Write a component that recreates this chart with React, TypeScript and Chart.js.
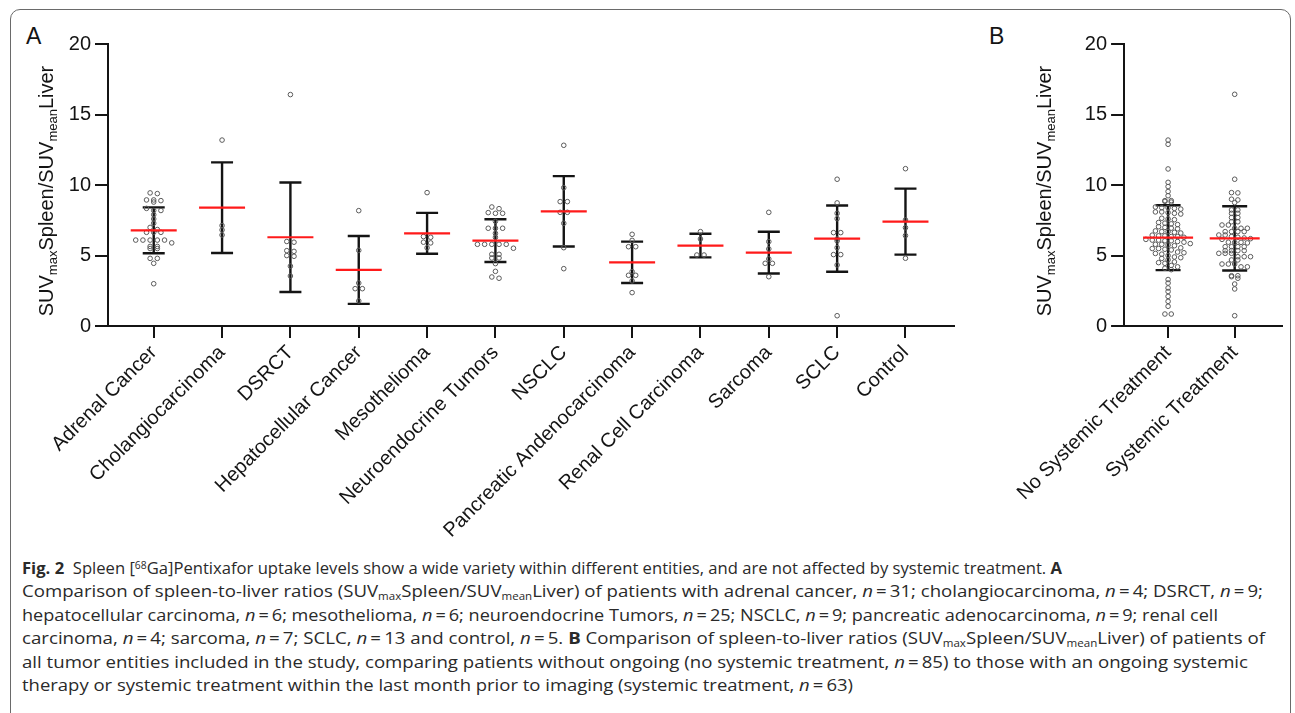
import React, { useEffect, useLayoutEffect, useRef } from 'react';
import { Chart, registerables } from 'chart.js';
Chart.register(...registerables);

const FONT = '"Liberation Sans", Arial, sans-serif';

// ---------- Panel A data ----------
const categoriesA = [
  'Adrenal Cancer', 'Cholangiocarcinoma', 'DSRCT', 'Hepatocellular Cancer', 'Mesothelioma',
  'Neuroendocrine Tumors', 'NSCLC', 'Pancreatic Andenocarcinoma', 'Renal Cell Carcinoma',
  'Sarcoma', 'SCLC', 'Control',
];
const adrenalCancer = [9.45, 9.4, 8.95, 8.95, 8.9, 8.8, 8.35, 8.2, 8.2, 7.9, 7.6, 7.3, 7.0, 6.85, 6.65, 6.65, 6.65, 6.1, 6.1, 6.1, 6.1, 6.1, 5.9, 5.65, 5.65, 5.5, 5.5, 4.8, 4.8, 4.45, 3.0];
const cholangiocarcinoma = [13.2, 7.13, 6.82, 6.46];
const dsrct = [16.43, 6.0, 5.95, 5.35, 5.3, 5.0, 4.95, 4.25, 3.55];
const hepatocellular = [8.19, 5.37, 3.05, 2.65, 2.65, 1.78];
const mesothelioma = [9.47, 6.35, 6.3, 5.95, 5.9, 5.55];
const neuroendocrine = [8.45, 8.33, 8.05, 8.0, 8.0, 7.43, 6.94, 6.94, 6.94, 6.58, 6.3, 5.8, 5.8, 5.8, 5.8, 5.8, 5.52, 5.09, 5.09, 4.83, 4.83, 4.43, 3.88, 3.48, 3.39];
const nsclc = [12.83, 9.82, 8.83, 8.83, 8.07, 8.07, 7.29, 5.56, 4.07];
const pancreatic = [6.51, 6.08, 5.63, 5.63, 3.86, 3.6, 3.6, 3.2, 2.37];
const renal = [6.7, 6.18, 5.04, 5.04];
const sarcoma = [8.07, 5.99, 5.47, 4.76, 4.45, 4.45, 3.5];
const sclc = [10.42, 8.74, 8.0, 7.62, 6.63, 6.63, 6.18, 6.04, 5.56, 5.07, 5.07, 4.33, 0.73];
const control = [11.17, 7.53, 6.98, 6.42, 4.81];
const meansA = [6.79, 8.4, 6.3, 3.98, 6.58, 6.06, 8.14, 4.52, 5.71, 5.21, 6.2, 7.41];
const sdsA = [1.63, 3.22, 3.89, 2.41, 1.45, 1.52, 2.5, 1.47, 0.84, 1.48, 2.35, 2.34];

// ---------- Panel B data ----------
const categoriesB = ['No Systemic Treatment', 'Systemic Treatment'];
const noSystemic = [
  13.2, 12.9, 11.15, 10.2, 9.9, 9.55, 9.25,
  8.9, 8.9, 8.85, 8.8,
  8.4, 8.4, 8.35, 8.3, 8.45,
  8.1, 8.05, 8.0, 8.1, 7.95,
  7.6, 7.55, 7.65,
  7.3, 7.25, 7.2, 7.35,
  7.0, 6.95, 7.05, 6.9,
  6.7, 6.65, 6.75, 6.6, 6.7,
  6.4, 6.35, 6.45, 6.3, 6.4, 6.35,
  6.1, 6.05, 6.15, 6.0, 6.1, 6.05, 5.95,
  5.8, 5.75, 5.85, 5.7, 5.8,
  5.5, 5.45, 5.55, 5.4, 5.5,
  5.2, 5.15, 5.25, 5.1, 5.0,
  4.9, 4.8, 4.85, 4.7,
  4.5, 4.45, 4.55, 4.3,
  4.2, 4.1, 4.0,
  3.3, 3.05, 2.7, 2.45, 2.1, 1.75, 1.4, 0.85, 0.85,
];
const systemic = [
  16.45, 10.42, 9.47, 9.45, 9.0, 8.95, 8.76, 8.24, 8.24, 8.0, 8.0, 7.7, 7.7, 7.4, 7.4,
  7.17, 7.17, 6.94, 6.94, 6.94, 6.7, 6.7, 6.7, 6.7, 6.46, 6.46, 6.3, 6.25, 6.2, 6.35, 6.15,
  5.94, 5.94, 5.9, 5.95, 5.63, 5.63, 5.63, 5.63, 5.35, 5.35, 5.35, 5.35, 5.16, 5.16, 5.16,
  4.92, 4.92, 4.92, 4.69, 4.69, 4.4, 4.4, 4.4, 4.2, 4.2, 3.57, 3.57, 3.5, 3.39, 2.98, 2.63, 0.73,
];
const meansB = [6.27, 6.22];
const sdsB = [2.3, 2.28];

const yTicks = [0, 5, 10, 15, 20];

// Prism-like scatter layout: values falling into the same row are centred side by side
function swarm(values: number[], center: number, stepX: number, binY: number) {
  const sorted = [...values].sort((a, b) => b - a);
  const rows = new Map<number, number[]>();
  for (const v of sorted) {
    const k = Math.round(v / binY);
    if (!rows.has(k)) rows.set(k, []);
    rows.get(k)!.push(v);
  }
  const pts: { x: number; y: number }[] = [];
  rows.forEach((arr) => {
    const n = arr.length;
    arr.forEach((v, i) => pts.push({ x: center + (i - (n - 1) / 2) * stepX, y: v }));
  });
  return pts;
}

type PlotProps = {
  left: number; top: number; width: number; height: number;
  categories: string[]; groups: number[][]; means: number[]; sds: number[];
  xMin: number; xMax: number; stepX: number;
  yAxisWidth: number; padTop: number; padRight: number; xAxisHeight: number;
  titleX: number; titleCY: number; capHalf: number; meanHalf: number;
};

function DotPlot(p: PlotProps) {
  const ref = useRef<HTMLCanvasElement | null>(null);
  useEffect(() => {
    if (!ref.current) return;
    const bars = {
      id: 'errbars',
      beforeDatasetsDraw(chart: any) {
        const { ctx, scales } = chart;
        const x = scales.x, y = scales.y;
        ctx.save();
        ctx.strokeStyle = '#141414';
        ctx.lineWidth = 2.4;
        p.means.forEach((m, i) => {
          const px = x.getPixelForValue(i);
          const t = y.getPixelForValue(m + p.sds[i]);
          const b = y.getPixelForValue(m - p.sds[i]);
          ctx.beginPath();
          ctx.moveTo(px, t); ctx.lineTo(px, b);
          ctx.moveTo(px - p.capHalf, t); ctx.lineTo(px + p.capHalf, t);
          ctx.moveTo(px - p.capHalf, b); ctx.lineTo(px + p.capHalf, b);
          ctx.stroke();
        });
        ctx.restore();
      },
      afterDatasetsDraw(chart: any) {
        const { ctx, scales } = chart;
        const x = scales.x, y = scales.y;
        ctx.save();
        ctx.strokeStyle = '#ff1a1a';
        ctx.lineWidth = 2.2;
        p.means.forEach((m, i) => {
          const px = x.getPixelForValue(i);
          const py = y.getPixelForValue(m);
          ctx.beginPath();
          ctx.moveTo(px - p.meanHalf, py); ctx.lineTo(px + p.meanHalf, py);
          ctx.stroke();
        });
        ctx.restore();
      },
      afterDraw(chart: any) {
        const { ctx } = chart;
        const parts: [string, number, number][] = [
          ['SUV', 20, 0], ['max', 13, 4], ['Spleen/SUV', 20, 0], ['mean', 13, 4], ['Liver', 20, 0],
        ];
        ctx.save();
        ctx.translate(p.titleX, p.titleCY);
        ctx.rotate(-Math.PI / 2);
        let total = 0;
        parts.forEach(([t, s]) => { ctx.font = `${s}px ${FONT}`; total += ctx.measureText(t).width; });
        let xx = -total / 2;
        ctx.fillStyle = '#141414';
        ctx.textBaseline = 'alphabetic';
        ctx.textAlign = 'left';
        parts.forEach(([t, s, off]) => {
          ctx.font = `${s}px ${FONT}`;
          ctx.fillText(t, xx, off);
          xx += ctx.measureText(t).width;
        });
        ctx.restore();
      },
    };
    const datasets = p.groups.map((g, i) => ({
      type: 'scatter' as const,
      data: swarm(g, i, p.stepX, 0.334),
      pointRadius: 2.3,
      pointBorderWidth: 1,
      pointBorderColor: '#5a5a5a',
      pointBackgroundColor: 'rgba(255,255,255,0)',
      showLine: false,
    }));
    const chart = new Chart(ref.current, {
      type: 'scatter',
      data: { datasets },
      options: {
        responsive: false,
        animation: false,
        devicePixelRatio: 1,
        layout: { padding: { top: p.padTop, right: p.padRight, left: 0, bottom: 0 } },
        plugins: { legend: { display: false }, tooltip: { enabled: false } },
        scales: {
          x: {
            type: 'linear',
            min: p.xMin,
            max: p.xMax,
            afterBuildTicks: (s: any) => { s.ticks = p.categories.map((_, i) => ({ value: i })); },
            afterFit: (s: any) => { s.height = p.xAxisHeight; },
            ticks: {
              autoSkip: false,
              minRotation: 45,
              maxRotation: 45,
              padding: 3,
              color: '#141414',
              font: { family: FONT, size: 20 },
              callback: (v: any) => p.categories[v] ?? '',
            },
            grid: { display: true, drawOnChartArea: false, drawTicks: true, tickLength: 12, color: '#141414', lineWidth: 2 },
            border: { display: true, color: '#141414', width: 2 },
          },
          y: {
            type: 'linear',
            min: 0,
            max: 20,
            afterBuildTicks: (s: any) => { s.ticks = yTicks.map((v) => ({ value: v })); },
            afterFit: (s: any) => { s.width = p.yAxisWidth; },
            ticks: { padding: 4, color: '#141414', font: { family: FONT, size: 20 } },
            grid: { display: true, drawOnChartArea: false, drawTicks: true, tickLength: 13, color: '#141414', lineWidth: 2 },
            border: { display: true, color: '#141414', width: 2 },
          },
        },
      },
      plugins: [bars],
    } as any);
    return () => chart.destroy();
  }, []);
  return (
    <canvas
      ref={ref}
      width={p.width}
      height={p.height}
      style={{ position: 'absolute', left: p.left, top: p.top, width: p.width, height: p.height }}
    />
  );
}

// caption line right edges in the reference (page px)
const captionLineEnds = [1062, 1263, 1218, 1265, 1248, 853];
const CAP_LEFT = 22;

const sub = (t: string) => <sub style={{ fontSize: '0.62em', verticalAlign: '-0.28em', lineHeight: 0 }}>{t}</sub>;
const n = <i>n</i>;
const eq = '\u2009=\u2009';

function CaptionLine(props: { idx: number; children: React.ReactNode }) {
  const ref = useRef<HTMLSpanElement | null>(null);
  useLayoutEffect(() => {
    const fit = () => {
      const el = ref.current;
      if (!el) return;
      el.style.transform = 'none';
      const w = el.getBoundingClientRect().width;
      const target = captionLineEnds[props.idx] - CAP_LEFT;
      if (w > 0) el.style.transform = `scaleX(${target / w})`;
    };
    fit();
    if ((document as any).fonts?.ready) (document as any).fonts.ready.then(fit);
  }, []);
  return (
    <div style={{ whiteSpace: 'nowrap', height: 23.4 }}>
      <span ref={ref} style={{ display: 'inline-block', transformOrigin: 'left center' }}>{props.children}</span>
    </div>
  );
}

export default function App() {
  return (
    <div style={{ position: 'fixed', left: 0, top: 0, width: 1295, height: 713, background: '#fff', overflow: 'hidden' }}>
      <div style={{ position: 'absolute', left: 10, top: 9, width: 1281, height: 720, border: '1px solid #6a6a6a', borderRadius: 10, boxSizing: 'border-box' }} />
      <div style={{ position: 'absolute', left: 26, top: 24.5, fontFamily: FONT, fontSize: 23, lineHeight: '23px', color: '#141414' }}>A</div>
      <div style={{ position: 'absolute', left: 989, top: 24.5, fontFamily: FONT, fontSize: 23, lineHeight: '23px', color: '#141414' }}>B</div>
      <DotPlot
        left={20} top={20} width={950} height={530}
        categories={categoriesA}
        groups={[adrenalCancer, cholangiocarcinoma, dsrct, hepatocellular, mesothelioma, neuroendocrine, nsclc, pancreatic, renal, sarcoma, sclc, control]}
        means={meansA} sds={sdsA}
        xMin={-0.669} xMax={11.71} stepX={0.1054}
        yAxisWidth={88} padTop={24.3} padRight={16} xAxisHeight={224}
        titleX={33} titleCY={171} capHalf={11} meanHalf={23}
      />
      <DotPlot
        left={985} top={20} width={305} height={530}
        categories={categoriesB}
        groups={[noSystemic, systemic]}
        means={meansB} sds={sdsB}
        xMin={-0.661} xMax={1.706} stepX={0.0952}
        yAxisWidth={117.7} padTop={24.3} padRight={8.3} xAxisHeight={224}
        titleX={66} titleCY={171} capHalf={12.5} meanHalf={25}
      />
      <div style={{ position: 'absolute', left: CAP_LEFT, top: 556, fontFamily: '"Open Sans", sans-serif', fontSize: 16.5, lineHeight: '23.4px', color: '#2a2a2a' }}>
        <CaptionLine idx={0}><b>Fig. 2</b>&nbsp; Spleen [<sup style={{ fontSize: '0.62em', verticalAlign: '0.5em', lineHeight: 0 }}>68</sup>Ga]Pentixafor uptake levels show a wide variety within different entities, and are not affected by systemic treatment. <b>A</b></CaptionLine>
        <CaptionLine idx={1}>Comparison of spleen-to-liver ratios (SUV{sub('max')}Spleen/SUV{sub('mean')}Liver) of patients with adrenal cancer, {n}{eq}31; cholangiocarcinoma, {n}{eq}4; DSRCT, {n}{eq}9;</CaptionLine>
        <CaptionLine idx={2}>hepatocellular carcinoma, {n}{eq}6; mesothelioma, {n}{eq}6; neuroendocrine Tumors, {n}{eq}25; NSCLC, {n}{eq}9; pancreatic adenocarcinoma, {n}{eq}9; renal cell</CaptionLine>
        <CaptionLine idx={3}>carcinoma, {n}{eq}4; sarcoma, {n}{eq}7; SCLC, {n}{eq}13 and control, {n}{eq}5. <b>B</b> Comparison of spleen-to-liver ratios (SUV{sub('max')}Spleen/SUV{sub('mean')}Liver) of patients of</CaptionLine>
        <CaptionLine idx={4}>all tumor entities included in the study, comparing patients without ongoing (no systemic treatment, {n}{eq}85) to those with an ongoing systemic</CaptionLine>
        <CaptionLine idx={5}>therapy or systemic treatment within the last month prior to imaging (systemic treatment, {n}{eq}63)</CaptionLine>
      </div>
    </div>
  );
}
